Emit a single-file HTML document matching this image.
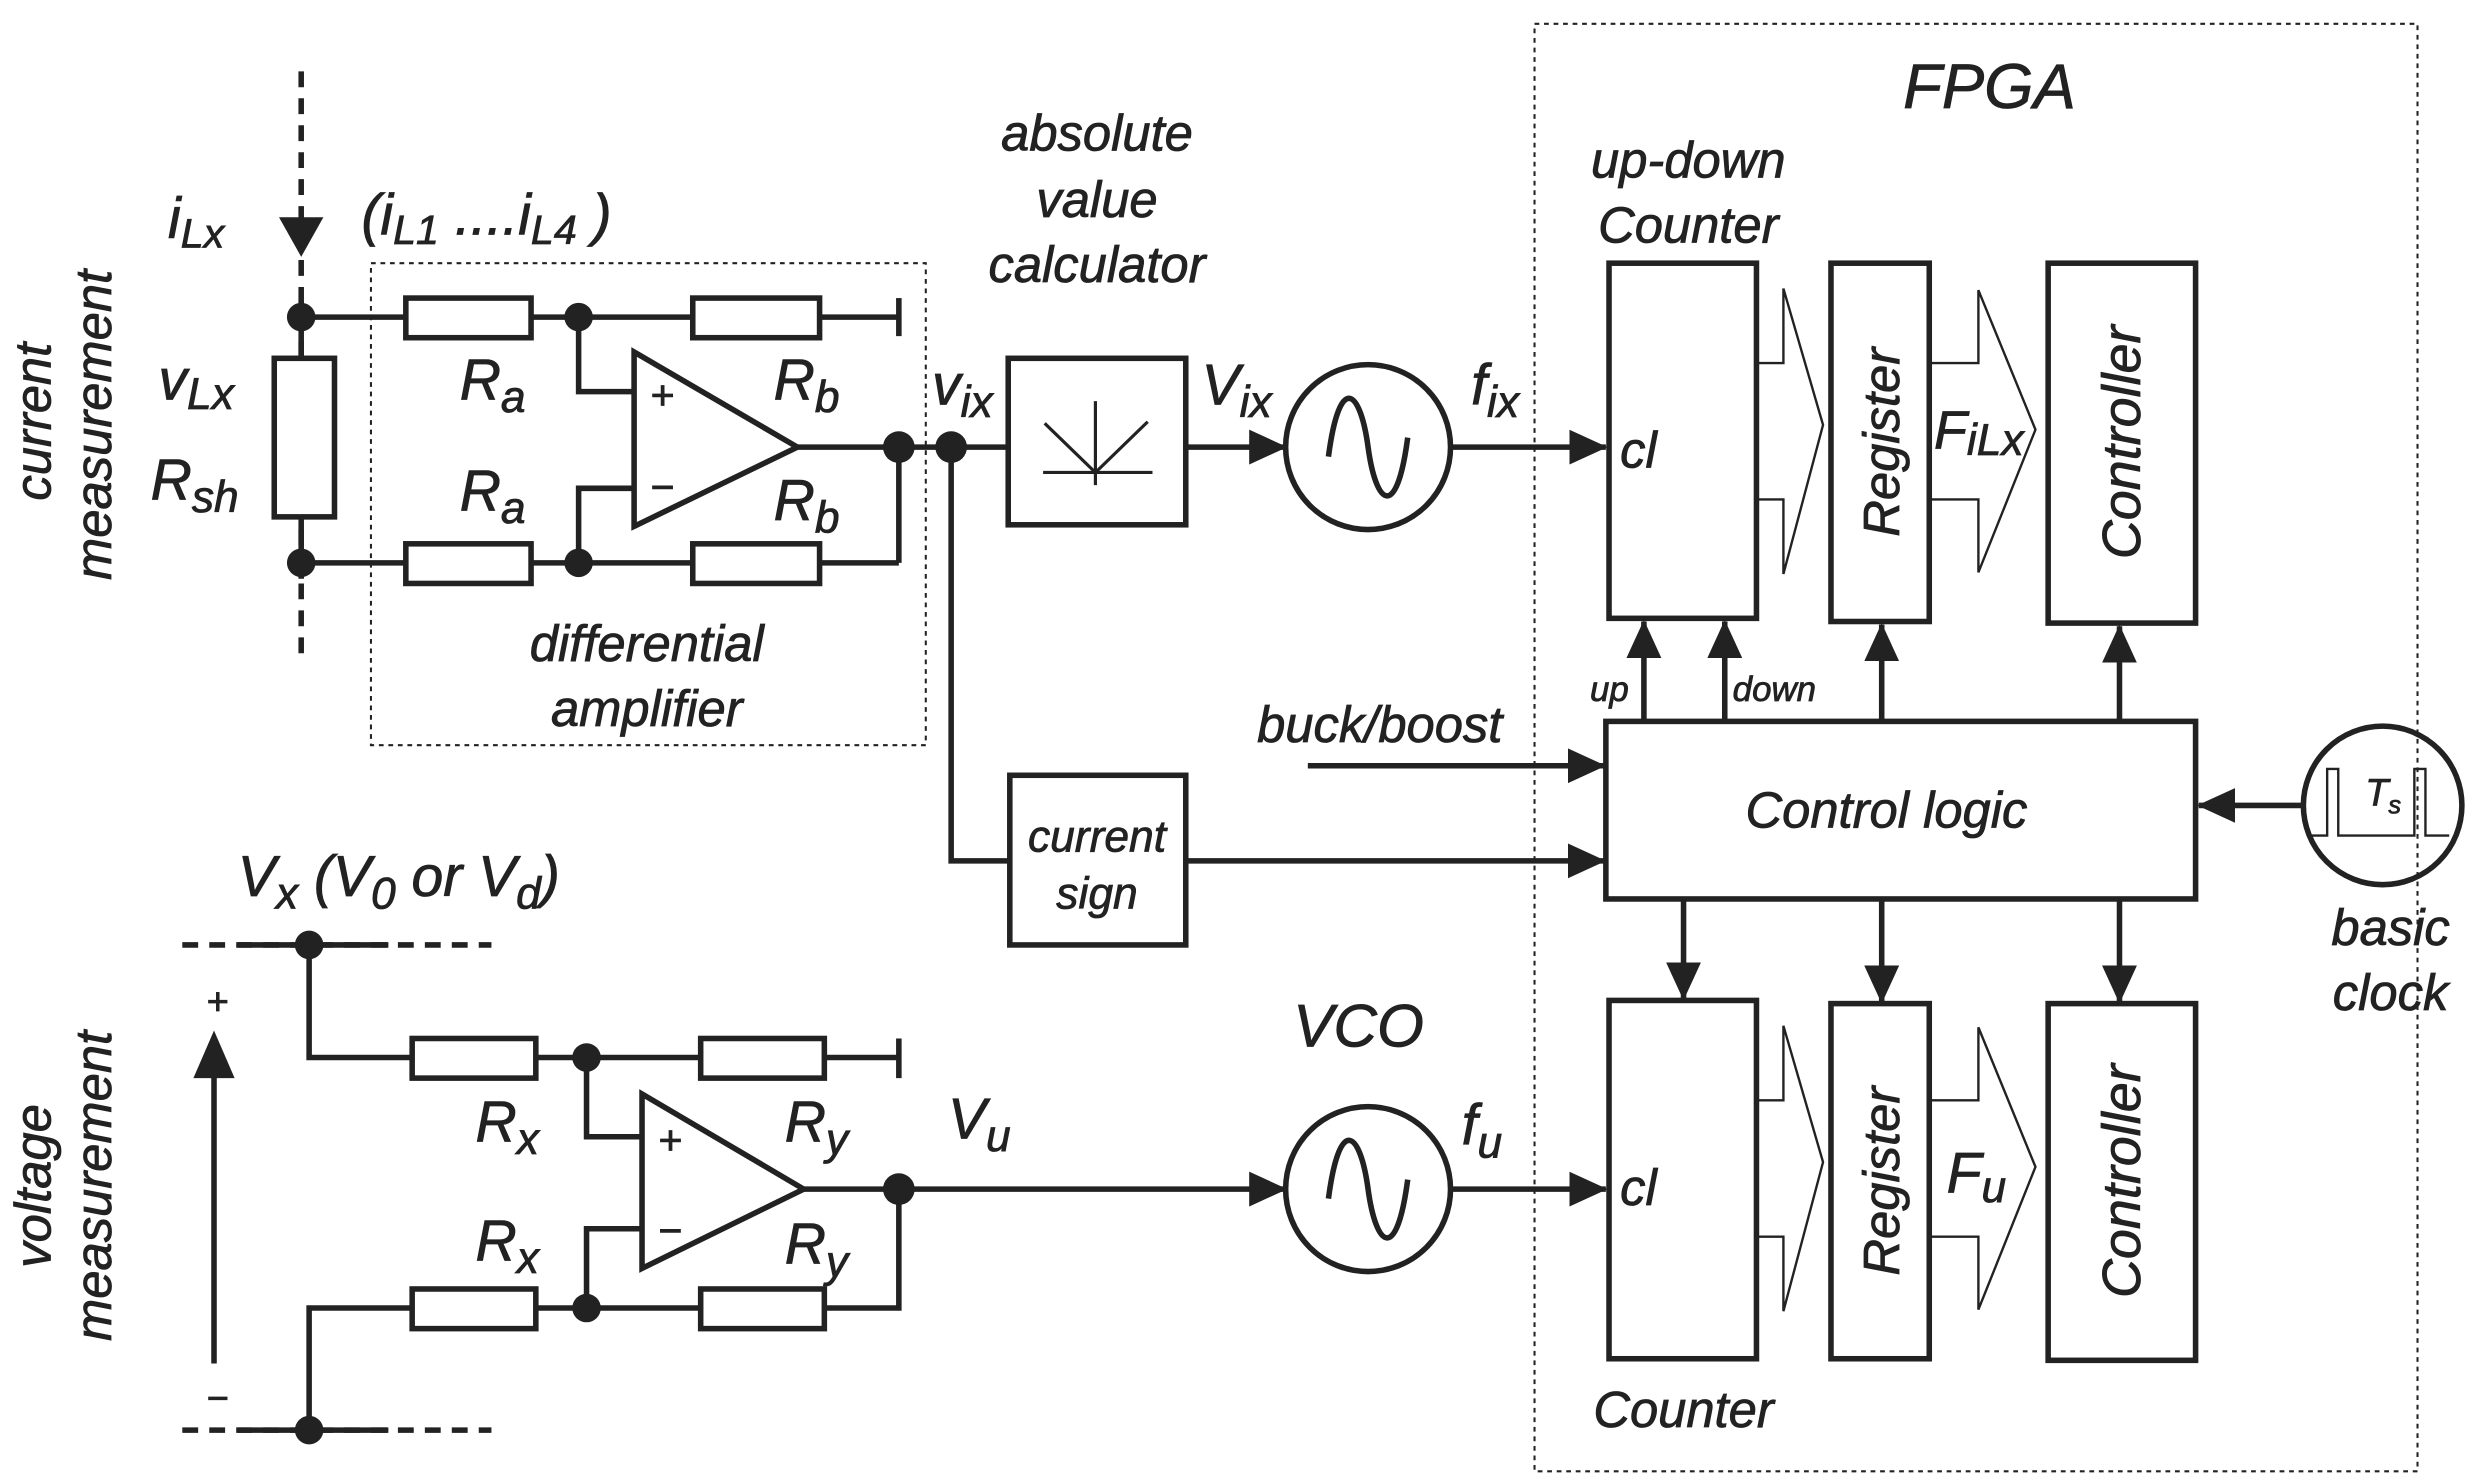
<!DOCTYPE html>
<html><head><meta charset="utf-8"><style>
html,body{margin:0;padding:0;background:#fff;}
svg{display:block;}
text{font-family:"Liberation Sans",sans-serif;font-style:italic;fill:#222;stroke:#222;stroke-width:0.5;}
</style></head><body>
<svg width="2473" height="1484" viewBox="0 0 1560 936" preserveAspectRatio="none" xmlns="http://www.w3.org/2000/svg">
<defs>
<marker id="ar" markerWidth="24" markerHeight="22" refX="23" refY="11" orient="auto" markerUnits="userSpaceOnUse" viewBox="0 0 24 22"><path d="M0,0 L24,11 L0,22z" fill="#222"/></marker>
</defs>
<g stroke="#222" stroke-width="3.5" fill="none">
<!-- current measurement -->
<line x1="190" y1="45" x2="190" y2="415" stroke-dasharray="10,7"/>
<path d="M176,137 L204,137 L190,162z" fill="#222" stroke="none"/>
<line x1="190" y1="190" x2="190" y2="365"/>
<rect x="173" y="226" width="38" height="100" fill="#fff"/>
<line x1="190" y1="200" x2="567" y2="200"/>
<line x1="567" y1="188" x2="567" y2="212"/>
<rect x="256" y="188" width="79" height="25" fill="#fff"/>
<rect x="437" y="188" width="80" height="25" fill="#fff"/>
<line x1="190" y1="355" x2="567" y2="355"/>
<line x1="567" y1="355" x2="567" y2="282"/>
<rect x="256" y="343" width="79" height="25" fill="#fff"/>
<rect x="437" y="343" width="80" height="25" fill="#fff"/>
<path d="M400,222 L400,332 L503,282z" fill="#fff"/>
<polyline points="365,200 365,247 400,247"/>
<polyline points="365,355 365,308 400,308"/>
<line x1="503" y1="282" x2="636" y2="282"/>
<rect x="234" y="166" width="350" height="304" stroke-width="1.3" stroke-dasharray="3,3"/>
<!-- abs -->
<rect x="636" y="226" width="112" height="105"/>
<g stroke-width="2"><line x1="658" y1="298" x2="727" y2="298"/><line x1="691" y1="253" x2="691" y2="306"/><line x1="659" y1="267" x2="691" y2="298"/><line x1="724" y1="266" x2="691" y2="298"/></g>
<line x1="748" y1="282" x2="811" y2="282" marker-end="url(#ar)"/>
<circle cx="863" cy="282" r="52"/>
<path d="M838,288 C845,235 858,245 863,282 C868,319 881,329 888,276"/>
<line x1="915" y1="282" x2="1013" y2="282" marker-end="url(#ar)"/>
<polyline points="600,282 600,543 637,543"/>
<rect x="637" y="489" width="111" height="107"/>
<line x1="748" y1="543" x2="1012" y2="543" marker-end="url(#ar)"/>
<line x1="825" y1="483" x2="1012" y2="483" marker-end="url(#ar)"/>
<!-- FPGA -->
<rect x="968" y="15" width="557" height="913" stroke-width="1.3" stroke-dasharray="3,3"/>
<rect x="1015" y="166" width="93" height="224"/>
<rect x="1155" y="166" width="62" height="226"/>
<rect x="1292" y="166" width="93" height="227"/>
<g stroke-width="1.5">
<polyline points="1108,229 1125,229 1125,182 1150,268 1125,362 1125,315 1108,315"/>
<polyline points="1217,229 1248,229 1248,183 1284,271 1248,361 1248,315 1217,315"/>
<polyline points="1108,694 1125,694 1125,647 1150,733 1125,827 1125,780 1108,780"/>
<polyline points="1217,694 1248,694 1248,648 1284,736 1248,826 1248,780 1217,780"/>
</g>
<line x1="1037" y1="455" x2="1037" y2="392" marker-end="url(#ar)"/>
<line x1="1088" y1="455" x2="1088" y2="392" marker-end="url(#ar)"/>
<line x1="1187" y1="455" x2="1187" y2="394" marker-end="url(#ar)"/>
<line x1="1337" y1="455" x2="1337" y2="395" marker-end="url(#ar)"/>
<rect x="1013" y="455" width="372" height="112"/>
<line x1="1062" y1="567" x2="1062" y2="630" marker-end="url(#ar)"/>
<line x1="1187" y1="567" x2="1187" y2="632" marker-end="url(#ar)"/>
<line x1="1337" y1="567" x2="1337" y2="632" marker-end="url(#ar)"/>
<circle cx="1503" cy="508" r="50"/>
<polyline stroke-width="1.5" points="1458,527 1468,527 1468,485 1475,485 1475,527 1523,527 1523,485 1530,485 1530,527 1545,527"/>
<line x1="1453" y1="508" x2="1387" y2="508" marker-end="url(#ar)"/>
<rect x="1015" y="631" width="93" height="226"/>
<rect x="1155" y="633" width="62" height="224"/>
<rect x="1292" y="633" width="93" height="225"/>
<!-- VCO -->
<line x1="567" y1="750" x2="811" y2="750" marker-end="url(#ar)"/>
<circle cx="863" cy="750" r="52"/>
<path d="M838,756 C845,703 858,713 863,750 C868,787 881,797 888,744"/>
<line x1="915" y1="750" x2="1013" y2="750" marker-end="url(#ar)"/>
<!-- voltage -->
<line x1="115" y1="596" x2="310" y2="596" stroke-dasharray="10,7"/>
<line x1="150" y1="596" x2="245" y2="596"/>
<line x1="115" y1="902" x2="310" y2="902" stroke-dasharray="10,7"/>
<line x1="150" y1="902" x2="245" y2="902"/>
<polyline points="195,596 195,667 567,667"/>
<line x1="567" y1="655" x2="567" y2="680"/>
<rect x="260" y="655" width="78" height="25" fill="#fff"/>
<rect x="442" y="655" width="78" height="25" fill="#fff"/>
<polyline points="195,902 195,825 567,825 567,750"/>
<rect x="260" y="813" width="78" height="25" fill="#fff"/>
<rect x="442" y="813" width="78" height="25" fill="#fff"/>
<path d="M405,690 L405,800 L507,750z" fill="#fff"/>
<polyline points="370,667 370,717 405,717"/>
<polyline points="370,825 370,775 405,775"/>
<line x1="507" y1="750" x2="567" y2="750"/>
<line x1="135" y1="860" x2="135" y2="670"/>
</g>
<path d="M122,680 L148,680 L135,650z" fill="#222"/>
<g fill="#222">
<circle cx="190" cy="200" r="9"/><circle cx="190" cy="355" r="9"/>
<circle cx="365" cy="200" r="9"/><circle cx="365" cy="355" r="9"/>
<circle cx="567" cy="282" r="10"/><circle cx="600" cy="282" r="10"/>
<circle cx="195" cy="596" r="9"/><circle cx="195" cy="902" r="9"/>
<circle cx="370" cy="667" r="9"/><circle cx="370" cy="825" r="9"/>
<circle cx="567" cy="750" r="10"/>
</g>
<g font-size="32">
<text x="-266" y="32" transform="rotate(-90)" text-anchor="middle" font-size="32">current</text>
<text x="-268" y="70" transform="rotate(-90)" text-anchor="middle" font-size="32">measurement</text>
<text x="-748" y="32" transform="rotate(-90)" text-anchor="middle" font-size="32">voltage</text>
<text x="-748" y="70" transform="rotate(-90)" text-anchor="middle" font-size="32">measurement</text>
<text x="106" y="150" font-size="36">i<tspan font-size="26" dy="6">Lx</tspan></text>
<text x="228" y="148" font-size="36">(i<tspan font-size="26" dy="6">L1</tspan><tspan dy="-6"> ....i</tspan><tspan font-size="26" dy="6">L4</tspan><tspan dy="-6"> )</tspan></text>
<text x="100" y="252" font-size="36">v<tspan font-size="28" dy="6">Lx</tspan></text>
<text x="95" y="315" font-size="36">R<tspan font-size="28" dy="8">sh</tspan></text>
<text x="290" y="252" font-size="36">R<tspan font-size="28" dy="8">a</tspan></text>
<text x="290" y="322" font-size="36">R<tspan font-size="28" dy="8">a</tspan></text>
<text x="488" y="252" font-size="36">R<tspan font-size="28" dy="8">b</tspan></text>
<text x="488" y="328" font-size="36">R<tspan font-size="28" dy="8">b</tspan></text>
<text x="410" y="258" font-size="26" font-style="normal">+</text>
<text x="410" y="316" font-size="26" font-style="normal">−</text>
<text x="408" y="417" text-anchor="middle">differential</text>
<text x="408" y="458" text-anchor="middle">amplifier</text>
<text x="692" y="95" text-anchor="middle">absolute</text>
<text x="692" y="137" text-anchor="middle">value</text>
<text x="692" y="178" text-anchor="middle">calculator</text>
<text x="588" y="255" font-size="36">v<tspan font-size="28" dy="8">ix</tspan></text>
<text x="758" y="255" font-size="36">V<tspan font-size="28" dy="8">ix</tspan></text>
<text x="928" y="255" font-size="36">f<tspan font-size="28" dy="8">ix</tspan></text>
<text x="692" y="537" text-anchor="middle" font-size="28">current</text>
<text x="692" y="573" text-anchor="middle" font-size="28">sign</text>
<text x="793" y="468">buck/boost</text>
<text x="1255" y="68" text-anchor="middle" font-size="40">FPGA</text>
<text x="1065" y="112" text-anchor="middle">up-down</text>
<text x="1065" y="153" text-anchor="middle">Counter</text>
<text x="1022" y="295">cl</text>
<text x="1022" y="760">cl</text>
<text x="-279" y="1198" transform="rotate(-90)" text-anchor="middle">Register</text>
<text x="-279" y="1350" transform="rotate(-90)" text-anchor="middle" font-size="34">Controller</text>
<text x="-745" y="1198" transform="rotate(-90)" text-anchor="middle">Register</text>
<text x="-745" y="1350" transform="rotate(-90)" text-anchor="middle" font-size="34">Controller</text>
<text x="1220" y="283" font-size="34">F<tspan font-size="28" dy="4">iLx</tspan></text>
<text x="1228" y="752" font-size="36">F<tspan font-size="28" dy="6">u</tspan></text>
<text x="1003" y="442" font-size="22">up</text>
<text x="1093" y="442" font-size="22">down</text>
<text x="1190" y="522" text-anchor="middle">Control logic</text>
<text x="1492" y="508" font-size="24">T<tspan font-size="16" dy="5">s</tspan></text>
<text x="1508" y="596" text-anchor="middle">basic</text>
<text x="1508" y="637" text-anchor="middle">clock</text>
<text x="1062" y="900" text-anchor="middle">Counter</text>
<text x="857" y="660" text-anchor="middle" font-size="38">VCO</text>
<text x="922" y="722" font-size="36">f<tspan font-size="28" dy="8">u</tspan></text>
<text x="598" y="718" font-size="36">V<tspan font-size="28" dy="8">u</tspan></text>
<text x="150" y="565" font-size="36">V<tspan font-size="28" dy="8">x</tspan><tspan dy="-8"> (V</tspan><tspan font-size="28" dy="8">0</tspan><tspan dy="-8"> or V</tspan><tspan font-size="28" dy="8">d</tspan><tspan dy="-8">)</tspan></text>
<text x="300" y="720" font-size="36">R<tspan font-size="28" dy="8">x</tspan></text>
<text x="300" y="795" font-size="36">R<tspan font-size="28" dy="8">x</tspan></text>
<text x="495" y="720" font-size="36">R<tspan font-size="28" dy="8">y</tspan></text>
<text x="495" y="797" font-size="36">R<tspan font-size="28" dy="8">y</tspan></text>
<text x="415" y="728" font-size="26" font-style="normal">+</text>
<text x="415" y="785" font-size="26" font-style="normal">−</text>
<text x="137" y="640" font-size="24" font-style="normal" text-anchor="middle">+</text>
<text x="137" y="890" font-size="24" font-style="normal" text-anchor="middle">−</text>
</g>
</svg>
</body></html>
